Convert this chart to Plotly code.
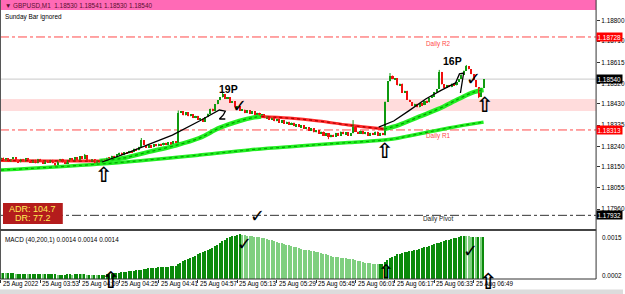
import plotly.graph_objects as go

W, H = 625, 294

# ---------------- data ----------------
BASE = 1.18000          # close prices given as points (1e-5) above BASE
open_first_pt = 180
close_pts = [
    190, 174, 186, 170, 182, 192, 176, 168, 184, 172,
    188, 176, 166, 180, 164, 184, 172, 162, 178, 166,
    180, 164, 158, 174, 184, 168, 162, 178, 188, 176,
    192, 178, 196, 184, 200, 180, 170, 182, 164, 178,
    168,
    182, 176, 190, 184, 198, 190, 204, 212, 200, 214, 208, 220,
    214, 230, 222, 238, 266, 246, 234, 244, 236, 250, 240, 252, 244, 256, 246, 258, 250, 262, 256,
    390,
    396, 378, 392, 374, 384, 366, 376, 358, 364,
    350, 370, 386,
    408, 396, 428, 446, 458, 472,
    452, 460, 434, 442, 414, 420, 398,
    404, 388, 400, 384, 396, 380, 390, 378,
    384, 366, 374, 358, 368, 352, 362, 346, 356, 340, 350, 336, 346, 330, 338, 326,
    334, 318, 326, 310, 320, 302, 312, 296, 306, 288, 298, 280,
    292, 282, 300, 288, 306, 294, 302, 288, 298,
    330,
    306, 296, 310, 294, 304, 288, 300, 292, 306, 288, 300,
    290, 440, 530, 556,
    540, 544, 512, 520, 478, 488, 448,
    438, 420, 430,
    414, 432, 424, 444, 436, 456, 462,
    482, 496,
    572, 516,
    500, 514, 504, 520, 512, 528,
    540, 560, 578, 598,
    584, 562, 534, 504,
    462, 502, 540,
]
wick_high_pts = {34: 206, 57: 277, 72: 400, 90: 478, 143: 357, 158: 567, 178: 581, 189: 603}
wick_low_pts = {22: 152, 133: 272, 156: 288, 194: 455}

macd_1e5 = [
    35, 35, 34, 34, 34, 34, 33, 33, 33, 33, 33, 32, 32, 32, 32, 32, 32, 31, 31, 31, 31, 31, 31, 30, 30,
    30, 30, 31, 31, 30, 31, 32, 32, 31, 31, 30, 30, 29, 29, 28, 28,
    29, 30, 31, 32, 33, 34, 35, 36, 37, 38, 39, 40, 41, 42, 43, 44, 45, 46, 47, 48, 49, 50, 50, 51,
    52, 52, 53, 53, 54, 54, 55, 60,
    64, 68, 72, 75, 78, 82, 85, 88, 91, 94, 97, 100, 103, 107, 111, 116, 121, 126, 130, 134, 137,
    140, 142, 144, 145,
    144, 143, 142, 141, 140, 139, 138, 137, 136, 134,
    132, 130, 128, 126, 124, 122, 120, 118, 116, 114,
    112, 110, 108, 106, 104, 102, 101, 100, 99, 98,
    96, 94, 92, 90, 88, 86, 84, 82, 81, 80,
    79, 78, 77, 76, 75, 74, 72, 70, 68, 66,
    65, 64, 63, 62, 61, 60, 60,
    62, 66, 72, 78, 82, 85, 88, 90, 92, 94,
    96, 97, 98, 100, 102, 104, 106, 108, 110, 113,
    116, 118, 120, 122, 124, 126, 128, 130, 132, 134,
    136, 138, 140, 142, 141, 140, 139, 139, 138, 138,
    137, 138,
]

# fast MA (colour by slope) : bar index / points
fast_ma = [
    ("down", [0, 20, 40], [177, 175, 174]),
    ("up", [40, 50, 60, 70, 80.6, 88.7, 96.8, 102.8, 105.7], [174, 188, 215, 241, 277, 322, 353, 369, 373]),
    ("down", [105.7, 117, 129, 141, 155.5], [373, 366, 353, 335, 317]),
    ("up", [155.5, 161.5, 169.6, 177.7, 185.8, 192, 196], [317, 335, 371, 407, 451, 482, 491]),
]
slow_ma_i = [0, 40, 80.6, 100.8, 121, 141.3, 157.5, 169.6, 181.8, 196]
slow_ma_pts = [134, 161, 201, 224, 241, 257, 270, 295, 322, 348]

# hand-drawn trend lines (bar index, points)
trend1_i = [41.1, 52.2, 60.3, 69.6, 80.6, 86.6, 88.7, 91.1, 90.3, 88.7, 91.1]
trend1_pts = [170, 214, 250, 290, 353, 389, 402, 397, 380, 362, 362]
trend2_i = [153.4, 159.5, 165.6, 172.5, 178.9, 184.6, 186.2, 187.9, 186.6]
trend2_pts = [326, 353, 398, 451, 491, 523, 563, 567, 478]

daily_r2 = 1.18728
daily_r1 = 1.18313
daily_pivot = 1.17932
bid = 1.18540
zone_lo, zone_hi = 1.18398, 1.18451

price_ticks = [1.18800, 1.18710, 1.18615, 1.18520, 1.18430, 1.18335, 1.18240, 1.18150, 1.18055, 1.17960, 1.17870]
time_tick_bars = [0, 16, 32, 48, 64, 80, 96, 112, 128, 144, 160, 176, 192]
time_tick_labels = ["25 Aug 2022", "25 Aug 03:53", "25 Aug 04:09", "25 Aug 04:25", "25 Aug 04:41",
                    "25 Aug 04:57", "25 Aug 05:13", "25 Aug 05:29", "25 Aug 05:45", "25 Aug 06:01",
                    "25 Aug 06:17", "25 Aug 06:33", "25 Aug 06:49"]

# ---------------- derived ----------------
n = len(close_pts)
assert n == 197 and len(macd_1e5) == n
to_p = lambda v: BASE + v / 1e5
closes = [to_p(v) for v in close_pts]
opens = [to_p(open_first_pt)] + closes[:-1]
highs, lows = [], []
for i in range(n):
    hi = max(opens[i], closes[i]); lo = min(opens[i], closes[i])
    if i in wick_high_pts: hi = max(hi, to_p(wick_high_pts[i]))
    if i in wick_low_pts: lo = min(lo, to_p(wick_low_pts[i]))
    highs.append(hi); lows.append(lo)

FONT = "Liberation Sans"
def px(x): return x / W
def py(y): return 1 - y / H

fig = go.Figure()

# slow MA
sy = [to_p(v) for v in slow_ma_pts]
fig.add_trace(go.Scatter(x=slow_ma_i, y=sy, mode="lines", line=dict(color="#22ee22", width=3.5, shape="spline"),
                         xaxis="x", yaxis="y", hoverinfo="skip"))
fig.add_trace(go.Scatter(x=slow_ma_i, y=sy, mode="lines", line=dict(color="#00a800", width=1.2, dash="dot", shape="spline"),
                         xaxis="x", yaxis="y", hoverinfo="skip"))
# fast MA
for kind, xi, vals in fast_ma:
    yy = [to_p(v) for v in vals]
    base_col, dot_col, w = ("#22ee22", "#00a000", 4.5) if kind == "up" else ("#ff2a2a", "#b00000", 3)
    fig.add_trace(go.Scatter(x=xi, y=yy, mode="lines", line=dict(color=base_col, width=w, shape="spline"),
                             xaxis="x", yaxis="y", hoverinfo="skip"))
    fig.add_trace(go.Scatter(x=xi, y=yy, mode="lines", line=dict(color=dot_col, width=1.3, dash="dot", shape="spline"),
                             xaxis="x", yaxis="y", hoverinfo="skip"))

# candles (drawn over the averages)
for up, col in ((True, "#109a10"), (False, "#f01010")):
    idx = [i for i in range(n) if (closes[i] >= opens[i]) == up]
    wx, wy = [], []
    for i in idx:
        wx += [i, i, None]; wy += [lows[i], highs[i], None]
    fig.add_trace(go.Scatter(x=wx, y=wy, mode="lines", line=dict(color=col, width=1),
                             xaxis="x", yaxis="y", hoverinfo="skip"))
    fig.add_trace(go.Bar(x=idx, base=[min(opens[i], closes[i]) for i in idx],
                         y=[max(abs(closes[i] - opens[i]), 4e-5) for i in idx],
                         width=0.85, marker=dict(color=col, line=dict(width=0)),
                         xaxis="x", yaxis="y", hoverinfo="skip"))

# trend lines
for ti, tv in ((trend1_i, trend1_pts), (trend2_i, trend2_pts)):
    fig.add_trace(go.Scatter(x=ti, y=[to_p(v) for v in tv], mode="lines", line=dict(color="black", width=1.3),
                             xaxis="x", yaxis="y", hoverinfo="skip"))

# MACD histogram
macd = [v / 1e5 for v in macd_1e5]
rise = [i for i in range(n) if i > 0 and macd[i] >= macd[i - 1]]
fall = [i for i in range(n) if not (i > 0 and macd[i] >= macd[i - 1])]
fig.add_trace(go.Bar(x=fall, y=[macd[i] for i in fall], width=0.5, marker=dict(color="#7fcf7f", line=dict(width=0)),
                     xaxis="x2", yaxis="y2", hoverinfo="skip"))
fig.add_trace(go.Bar(x=rise, y=[macd[i] for i in rise], width=0.6, marker=dict(color="#0a8a0a", line=dict(width=0)),
                     xaxis="x2", yaxis="y2", hoverinfo="skip"))

# ---------------- shapes ----------------
shapes = []
XR = 598 / W
shapes.append(dict(type="rect", xref="paper", x0=0, x1=XR, yref="y", y0=zone_lo, y1=zone_hi,
                   fillcolor="#ffdcdc", line=dict(width=0), layer="below"))
shapes.append(dict(type="line", xref="paper", x0=0, x1=XR, yref="y", y0=bid, y1=bid,
                   line=dict(color="#c8c8c8", width=1), layer="below"))
for lvl, col in ((daily_r2, "#ff4a4a"), (daily_r1, "#ff4a4a"), (daily_pivot, "#333333")):
    shapes.append(dict(type="line", xref="paper", x0=0, x1=XR, yref="y", y0=lvl, y1=lvl,
                       line=dict(color=col, width=1, dash="dashdot"), layer="below"))
# title bar
shapes.append(dict(type="rect", xref="paper", yref="paper", x0=0, x1=XR, y0=py(10), y1=1,
                   fillcolor="#ff6ab6", line=dict(width=0)))
# ADR box
shapes.append(dict(type="rect", xref="paper", yref="paper", x0=px(3), x1=px(63), y0=py(224), y1=py(203),
                   fillcolor="#b41c1c", line=dict(width=0)))
# frame
shapes.append(dict(type="line", xref="paper", yref="paper", x0=XR, x1=XR, y0=py(279), y1=1,
                   line=dict(color="#333333", width=1)))
shapes.append(dict(type="line", xref="paper", yref="paper", x0=px(0.5), x1=px(0.5), y0=py(279), y1=1,
                   line=dict(color="#555555", width=1)))
shapes.append(dict(type="line", xref="paper", yref="paper", x0=0, x1=XR, y0=py(230), y1=py(230),
                   line=dict(color="#444444", width=2)))
shapes.append(dict(type="line", xref="paper", yref="paper", x0=0, x1=XR, y0=py(279), y1=py(279),
                   line=dict(color="#333333", width=1)))
shapes.append(dict(type="rect", xref="paper", yref="paper", x0=0, x1=1, y0=0, y1=py(289.5),
                   fillcolor="#dcdcdc", line=dict(width=0)))

# ---------------- annotations ----------------
ann = []
def txt(x, y, s, size=6.4, color="black", xa="left", ya="middle", family=FONT, **kw):
    ann.append(dict(x=px(x), y=py(y), xref="paper", yref="paper", text=s, showarrow=False,
                    xanchor=xa, yanchor=ya, font=dict(family=family, size=size, color=color), **kw))

txt(3, 5, "▼ GBPUSD,M1  1.18530 1.18541 1.18530 1.18540", color="#5a1030")
txt(3, 16.5, "Sunday Bar ignored")
txt(425, 43.5, "Daily R2", color="#ff4a4a")
txt(425, 135.5, "Daily R1", color="#ff4a4a")
txt(422, 218.5, "Daily Pivot", color="#222222")
txt(33, 208.5, "ADR: 104.7", size=9, color="#ffee55", xa="center")
txt(33, 218, "DR: 77.2", size=9, color="#ffee55", xa="center")
txt(229, 89, "<b>19P</b>", size=10.5, xa="center")
txt(454, 61, "<b>16P</b>", size=10.5, xa="center")
txt(3, 239.5, "MACD (40,200,1) 0.0014 0.0014 0.0014")
txt(602, 237, "0.0015")
txt(602, 275, "0.0002")
for cx, cy, sz in ((240, 105, 18), (258, 215, 18), (475, 78, 18), (245, 243, 18), (472, 251, 18)):
    txt(cx, cy, "✓", size=sz, xa="center", family="DejaVu Sans")
for cx, cy, sz in ((104, 175, 21), (386, 151, 21), (487, 105, 21), (111, 279.5, 23), (387, 271, 19), (490, 281.5, 22)):
    txt(cx, cy, "<b>⇧</b>", size=sz, xa="center", family="DejaVu Sans")

# price boxes on the right axis
for lvl, bg in ((daily_r2, "#ff0000"), (bid, "#000000"), (daily_r1, "#ff0000"), (daily_pivot, "#000000")):
    ann.append(dict(x=XR, y=lvl, xref="paper", yref="y", text=f"{lvl:.5f}", showarrow=False,
                    xanchor="left", yanchor="middle", bgcolor=bg, borderpad=0.5,
                    font=dict(family=FONT, size=6.4, color="white")))
# time labels
for b, lab in zip(time_tick_bars, time_tick_labels):
    ann.append(dict(x=b, y=py(283.5), xref="x2", yref="paper", text=lab, showarrow=False,
                    xanchor="left", yanchor="middle", font=dict(family=FONT, size=6.3, color="black")))

xr = [-0.4, 241.7]
fig.update_layout(
    width=W, height=H, margin=dict(l=0, r=0, t=0, b=0),
    paper_bgcolor="white", plot_bgcolor="white", showlegend=False, barmode="overlay", bargap=0,
    xaxis=dict(domain=[0, XR], range=xr, showticklabels=False, showgrid=False, zeroline=False, anchor="y"),
    yaxis=dict(domain=[py(229), 1], range=[1.17871, 1.18893], side="right", anchor="x",
               tickvals=price_ticks, ticktext=[f"{t:.5f}" for t in price_ticks],
               ticks="outside", ticklen=3, tickcolor="#333333", showgrid=False, zeroline=False,
               tickfont=dict(family=FONT, size=6.4, color="black")),
    xaxis2=dict(domain=[0, XR], range=xr, anchor="y2", showticklabels=False, showgrid=False, zeroline=False,
                tickvals=time_tick_bars, ticks="outside", ticklen=3, tickcolor="#333333"),
    yaxis2=dict(domain=[py(279), py(232)], range=[0.00018, 0.00152], anchor="x2", side="right",
                showticklabels=False, showgrid=False, zeroline=False),
    shapes=shapes, annotations=ann,
)
fig.write_html("out.html")
